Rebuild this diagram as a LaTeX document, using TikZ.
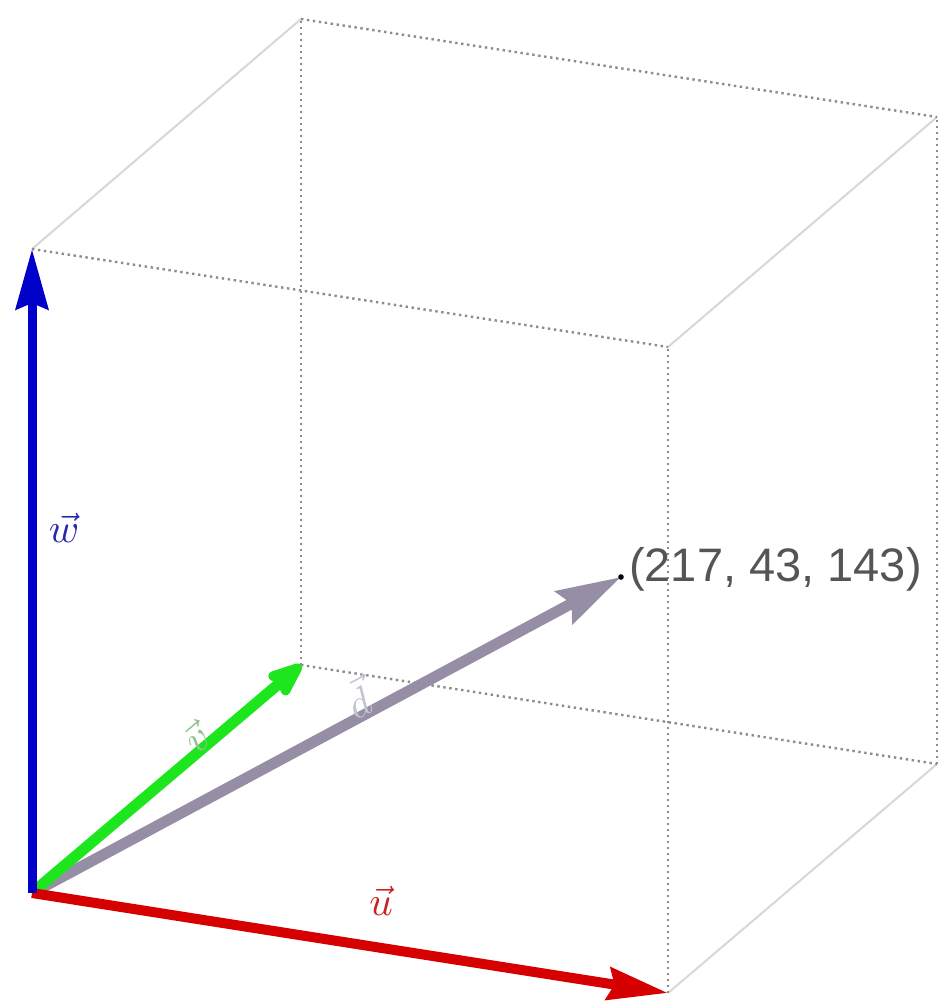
\documentclass[tikz,border=0pt]{standalone}
\usepackage{graphicx}
\usepackage{fontspec}
\setmainfont{Liberation Sans}
\usetikzlibrary{arrows.meta}
\definecolor{wblue}{RGB}{0,0,200}
\definecolor{ured}{RGB}{215,0,0}
\definecolor{vgreen}{RGB}{30,230,30}
\definecolor{dgray}{RGB}{150,142,165}
\definecolor{dotgray}{RGB}{140,140,140}
\definecolor{edgegray}{RGB}{215,215,215}
\definecolor{txtgray}{RGB}{85,85,85}
\definecolor{wlab}{RGB}{40,40,175}
\definecolor{ulab}{RGB}{200,35,35}
\definecolor{vlab}{RGB}{150,195,150}
\definecolor{dlab}{RGB}{195,195,210}
\newcommand{\biglab}[1]{\scalebox{4.1}{$\vec{#1}$}}
\tikzset{
  dotedge/.style={draw=dotgray, line width=2.4pt, dash pattern=on 2.4pt off 3.6pt},
  solidedge/.style={draw=edgegray, line width=2pt},
  vecarrow/.style={line width=9pt, -{Stealth[length=60pt,width=32pt,inset=6pt]}},
  veclab/.style={inner sep=0pt}
}
\begin{document}
\begin{tikzpicture}[x=1pt,y=-1pt]
\useasboundingbox (0,0) rectangle (941,1002);
% cube corners
\coordinate (A) at (32,893);
\coordinate (B) at (668,993);
\coordinate (C) at (301,665);
\coordinate (D) at (937,764);
\coordinate (E) at (32,249);
\coordinate (F) at (668,347);
\coordinate (G) at (301,19);
\coordinate (H) at (937,117);
\coordinate (P) at (621,577);
% solid light edges
\draw[solidedge] (E) -- (G);
\draw[solidedge] (F) -- (H);
\draw[solidedge] (B) -- (D);
% dotted edges
\draw[dotedge] (E) -- (F);
\draw[dotedge] (G) -- (H);
\draw[dotedge] (C) -- (D);
\draw[dotedge] (C) -- (G);
\draw[dotedge] (B) -- (F);
\draw[dotedge] (D) -- (H);
% vectors
\draw[vecarrow, draw=dgray, fill=dgray, line width=11pt, -{Stealth[length=64pt,width=36pt,inset=8pt]}] (A) -- (P);
\draw[vecarrow, draw=vgreen, fill=vgreen, line width=11pt, -{Stealth[length=44pt,width=34pt,inset=6pt,round]}] (A) -- (C);
\draw[vecarrow, draw=ured, fill=ured, line width=10pt] (A) -- (B);
\draw[vecarrow, draw=wblue, fill=wblue, line width=9pt] (A) -- (E);
\fill[black] (P) circle (2.8pt);
% labels
\node[veclab, text=wlab] (lw) at (64,528) {\biglab{w}};
\node[veclab, text=ulab] (lu) at (381,901) {\biglab{u}};
\node[veclab, text=vlab, rotate=40] (lv) at (196,737) {\biglab{v}};
\node[veclab, text=dlab, rotate=28] (ld) at (357,698) {\biglab{d}};
\node[anchor=south west, inner sep=0pt, text=txtgray, font=\fontsize{47}{50}\selectfont] (lp) at (629,591) {(217, 43, 143)};
\end{tikzpicture}
\end{document}
